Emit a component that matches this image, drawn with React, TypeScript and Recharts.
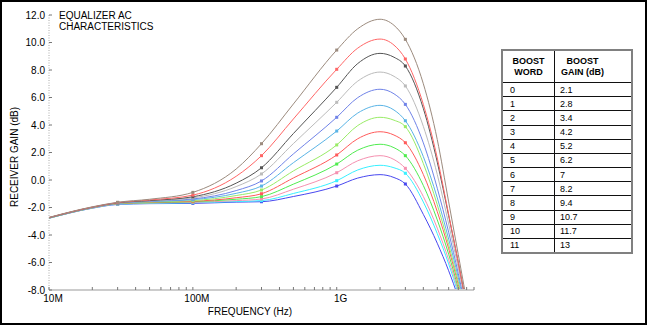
import { Line, LineChart, XAxis, YAxis } from "recharts";

const FONT = "'Liberation Sans', Arial, sans-serif";

// frequency points (Hz)
const freqs = [1e7, 2e7, 3e7, 5e7, 1e8, 2e8, 3e8, 5e8, 1e9, 1.4e9, 2e9, 2.5e9, 3e9, 4e9, 5e9, 6e9, 7e9, 8e9];

// receiver gain (dB) for each boost word
const word0 = [-2.78, -2.05, -1.78, -1.72, -1.7, -1.61, -1.58, -1.2, -0.44, 0.14, 0.39, 0.18, -0.29, -2.5, -4.6, -6.6, -8.55, -10.5];
const word1 = [-2.78, -2.04, -1.76, -1.7, -1.65, -1.57, -1.5, -0.98, -0.05, 0.73, 1.07, 0.89, 0.49, -1.6, -3.9, -6.1, -8.3, -10.4];
const word2 = [-2.77, -2.03, -1.74, -1.67, -1.62, -1.5, -1.38, -0.67, 0.53, 1.4, 1.77, 1.49, 0.85, -1.2, -3.5, -5.8, -8.1, -10.3];
const word3 = [-2.77, -2.02, -1.72, -1.65, -1.58, -1.4, -1.21, -0.3, 1.16, 2.17, 2.6, 2.35, 1.77, -0.4, -2.9, -5.4, -7.9, -10.2];
const word4 = [-2.76, -2.01, -1.71, -1.62, -1.55, -1.29, -1.0, 0.15, 1.82, 3.0, 3.51, 3.27, 2.71, 0.4, -2.3, -5.0, -7.6, -10];
const word5 = [-2.76, -2.01, -1.7, -1.6, -1.5, -1.13, -0.73, 0.66, 2.55, 3.96, 4.56, 4.35, 3.88, 1.2, -1.8, -4.7, -7.4, -10];
const word6 = [-2.75, -2.0, -1.69, -1.57, -1.43, -0.97, -0.44, 1.26, 3.56, 4.87, 5.43, 5.09, 4.31, 1.7, -1.3, -4.3, -7.1, -9.8];
const word7 = [-2.75, -2.0, -1.68, -1.55, -1.38, -0.77, -0.07, 1.9, 4.56, 5.99, 6.6, 6.27, 5.5, 2.7, -0.6, -3.8, -6.8, -9.6];
const word8 = [-2.74, -1.99, -1.67, -1.52, -1.3, -0.48, 0.44, 2.65, 5.65, 7.19, 7.85, 7.54, 6.84, 3.9, 0.4, -3.2, -6.4, -9.4];
const word9 = [-2.74, -1.98, -1.66, -1.5, -1.22, -0.23, 0.89, 3.38, 6.74, 8.47, 9.21, 8.93, 8.29, 5.2, 1.3, -2.6, -6.0, -9.2];
const word10 = [-2.73, -1.97, -1.64, -1.45, -1.1, 0.27, 1.77, 4.44, 8.05, 9.59, 10.25, 9.81, 8.8, 5.5, 1.6, -2.5, -6.0, -9.2];
const word11 = [-2.72, -1.95, -1.62, -1.4, -0.9, 0.8, 2.64, 5.53, 9.45, 11.0, 11.69, 11.25, 10.23, 7.0, 2.94, -1.59, -5.43, -8.76];

// measured points that carry a marker
const markerFreqs = [3e7, 1e8, 3e8, 1e9, 3e9];

const boostWords = ["0", "1", "2", "3", "4", "5", "6", "7", "8", "9", "10", "11"];
const boostGains = ["2.1", "2.8", "3.4", "4.2", "5.2", "6.2", "7", "8.2", "9.4", "10.7", "11.7", "13"];

const yTicks = [-8, -6, -4, -2, 0, 2, 4, 6, 8, 10, 12];
const xTicks = [
  1e7, 2e7, 3e7, 4e7, 5e7, 6e7, 7e7, 8e7, 9e7,
  1e8, 2e8, 3e8, 4e8, 5e8, 6e8, 7e8, 8e8, 9e8,
  1e9, 2e9, 3e9, 4e9, 5e9, 6e9, 7e9, 8e9, 9e9,
];
const xLabels: Record<number, string> = { 1e7: "10M", 1e8: "100M", 1e9: "1G" };

const series = [
  { key: "w0", values: word0, color: "#4848f0" },
  { key: "w1", values: word1, color: "#38f0ff" },
  { key: "w2", values: word2, color: "#f590b0" },
  { key: "w3", values: word3, color: "#50ec50" },
  { key: "w4", values: word4, color: "#ff5a5a" },
  { key: "w5", values: word5, color: "#99ec66" },
  { key: "w6", values: word6, color: "#5ab4e6" },
  { key: "w7", values: word7, color: "#7083e8" },
  { key: "w8", values: word8, color: "#bbbbbb" },
  { key: "w9", values: word9, color: "#555555" },
  { key: "w10", values: word10, color: "#ff6666" },
  { key: "w11", values: word11, color: "#9c8b7e" },
];

const rows = freqs.map((f, i) => {
  const row: Record<string, number> = { f };
  series.forEach((s) => {
    row[s.key] = s.values[i];
  });
  return row;
});

function XTick(props: any) {
  const { x, y, payload } = props;
  const label = xLabels[payload.value];
  return (
    <g>
      <line x1={x} x2={x} y1={y - 3} y2={y} stroke="#777" strokeWidth={1} />
      {label && (
        <text x={x + 4} y={y + 12} textAnchor="middle" fontSize={10} fontFamily={FONT} fill="#000">
          {label}
        </text>
      )}
    </g>
  );
}

function YTick(props: any) {
  const { x, y, payload } = props;
  return (
    <g>
      <line x1={x + 4} x2={x + 7} y1={y} y2={y} stroke="#777" strokeWidth={1} />
      <text x={x} y={y + 3.5} textAnchor="end" fontSize={10} fontFamily={FONT} fill="#000">
        {Number(payload.value).toFixed(1)}
      </text>
    </g>
  );
}

function makeDot(color: string) {
  return (p: any) => {
    const show = markerFreqs.includes(p.payload.f) && p.cy >= 15 && p.cy <= 290;
    if (!show) return <g key={p.key ?? `d-${p.index}`} />;
    return (
      <rect
        key={p.key ?? `d-${p.index}`}
        x={p.cx - 1.5}
        y={p.cy - 1.5}
        width={3}
        height={3}
        fill={color}
      />
    );
  };
}

export default function App() {
  return (
    <div style={{ position: "absolute", left: 0, top: 0, width: 650, height: 325, background: "#fff", fontFamily: FONT }}>
      <div
        style={{
          position: "absolute",
          left: 0,
          top: 0,
          width: 647,
          height: 325,
          border: "2px solid #000",
          boxSizing: "border-box",
        }}
      />

      <div style={{ position: "absolute", left: 0, top: 0 }}>
        <LineChart width={480} height={325} data={rows} margin={{ top: 15, right: 6, bottom: 0, left: 0 }}>
          <XAxis
            dataKey="f"
            type="number"
            scale="log"
            domain={[1e7, 9e9]}
            allowDataOverflow
            ticks={xTicks}
            interval={0}
            height={35}
            tickSize={0}
            tickMargin={0}
            tickLine={false}
            axisLine={{ stroke: "#cccccc", strokeWidth: 2 }}
            tick={<XTick />}
          />
          <YAxis
            type="number"
            domain={[-8, 12]}
            allowDataOverflow
            ticks={yTicks}
            interval={0}
            width={49}
            tickSize={0}
            tickMargin={4}
            tickLine={false}
            axisLine={{ stroke: "#aaaaaa", strokeDasharray: "1 1.5" }}
            tick={<YTick />}
          />
          {series.map((s) => (
            <Line
              key={s.key}
              dataKey={s.key}
              type="monotone"
              stroke={s.color}
              strokeWidth={1}
              dot={makeDot(s.color)}
              activeDot={false}
              isAnimationActive={false}
            />
          ))}
        </LineChart>
      </div>

      <div style={{ position: "absolute", left: 59, top: 9.5, fontSize: 10, lineHeight: "11px", color: "#000" }}>
        EQUALIZER AC
        <br />
        CHARACTERISTICS
      </div>

      <div
        style={{
          position: "absolute",
          left: -35,
          top: 151,
          width: 100,
          height: 12,
          lineHeight: "12px",
          fontSize: 10,
          textAlign: "center",
          whiteSpace: "nowrap",
          transform: "rotate(-90deg)",
          transformOrigin: "50% 50%",
        }}
      >
        RECEIVER GAIN (dB)
      </div>

      <div
        style={{
          position: "absolute",
          left: 190,
          top: 306,
          width: 120,
          lineHeight: "11px",
          fontSize: 10,
          textAlign: "center",
          whiteSpace: "nowrap",
        }}
      >
        FREQUENCY (Hz)
      </div>

      <div
        style={{
          position: "absolute",
          left: 501,
          top: 49,
          width: 132,
          height: 205,
          border: "2px solid #808080",
          boxSizing: "border-box",
          display: "flex",
          flexDirection: "column",
          fontSize: 9,
          color: "#000",
        }}
      >
        <div style={{ display: "flex", height: 32, borderBottom: "1px solid #111", boxSizing: "border-box", fontWeight: 700 }}>
          <div
            style={{
              width: 52,
              borderRight: "1px solid #111",
              boxSizing: "border-box",
              display: "flex",
              alignItems: "center",
              justifyContent: "center",
              textAlign: "center",
              lineHeight: "11px",
            }}
          >
            BOOST
            <br />
            WORD
          </div>
          <div style={{ flex: 1, display: "flex", alignItems: "center", paddingLeft: 6 }}>
            <div style={{ textAlign: "center", lineHeight: "11px" }}>
              BOOST
              <br />
              GAIN (dB)
            </div>
          </div>
        </div>
        {boostWords.map((w, i) => (
          <div
            key={w}
            style={{
              display: "flex",
              flex: 1,
              borderBottom: i < boostWords.length - 1 ? "1px solid #111" : "none",
              boxSizing: "border-box",
              alignItems: "stretch",
            }}
          >
            <div
              style={{
                width: 52,
                borderRight: "1px solid #111",
                boxSizing: "border-box",
                paddingLeft: 7,
                display: "flex",
                alignItems: "center",
              }}
            >
              {w}
            </div>
            <div style={{ flex: 1, paddingLeft: 5, display: "flex", alignItems: "center" }}>{boostGains[i]}</div>
          </div>
        ))}
      </div>
    </div>
  );
}
